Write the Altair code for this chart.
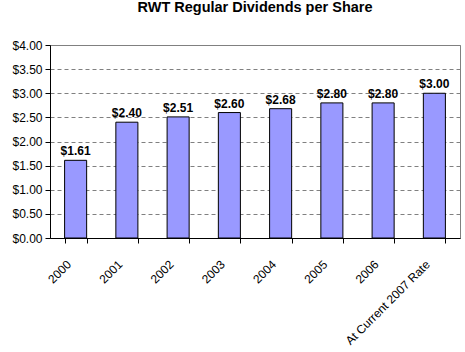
import altair as alt
import pandas as pd

categories = ["2000", "2001", "2002", "2003", "2004", "2005", "2006", "At Current 2007 Rate"]
dividends = [1.61, 2.40, 2.51, 2.60, 2.68, 2.80, 2.80, 3.00]
labels = ["$1.61", "$2.40", "$2.51", "$2.60", "$2.68", "$2.80", "$2.80", "$3.00"]
y_ticks = [0, 0.5, 1, 1.5, 2, 2.5, 3, 3.5, 4]

df = pd.DataFrame({"cat": categories, "val": dividends, "lab": labels})

FONT = "Liberation Sans"

x_axis = alt.Axis(labelAngle=-45, labelAlign="right", labelBaseline="middle",
                  labelFontSize=12, labelFont=FONT, labelColor="black",
                  domainColor="black", tickColor="black", tickSize=5,
                  tickBand="extent", labelPadding=19, labelOffset=-7, grid=False,
                  labelOverlap=False, labelLimit=300)
y_axis = alt.Axis(values=y_ticks, format="$.2f",
                  labelFontSize=12, labelFont=FONT, labelColor="black",
                  domainColor="black", tickColor="black", tickSize=5,
                  labelPadding=3, grid=True, gridColor="#808080",
                  gridDash=[4, 3], gridWidth=1, labelOverlap=False)
x_scale = alt.Scale(paddingInner=0.57, paddingOuter=0.285)
y_scale = alt.Scale(domain=[0, 4], nice=False)

x = alt.X("cat:N", sort=categories, title=None, scale=x_scale, axis=x_axis)
y = alt.Y("val:Q", title=None, scale=y_scale, axis=y_axis)

bars = alt.Chart(df).mark_bar(color="#9999FF", stroke="black", strokeWidth=1).encode(x=x, y=y)
text = alt.Chart(df).mark_text(dy=-9, fontWeight="bold", fontSize=12, font=FONT, color="black").encode(
    x=x, y=y, text="lab:N")

chart = (bars + text).properties(
    width=410, height=193,
    title=alt.TitleParams("RWT Regular Dividends per Share", font=FONT, fontSize=14.5,
                          fontWeight="bold", color="black", offset=24, anchor="middle"),
    autosize=alt.AutoSizeParams(type="none"),
    padding={"left": 50, "top": 45, "right": 5, "bottom": 114},
    background="white",
).configure_view(stroke="#808080", strokeWidth=1)

chart.save("out.html", embed_options={"renderer": "svg", "actions": False})
